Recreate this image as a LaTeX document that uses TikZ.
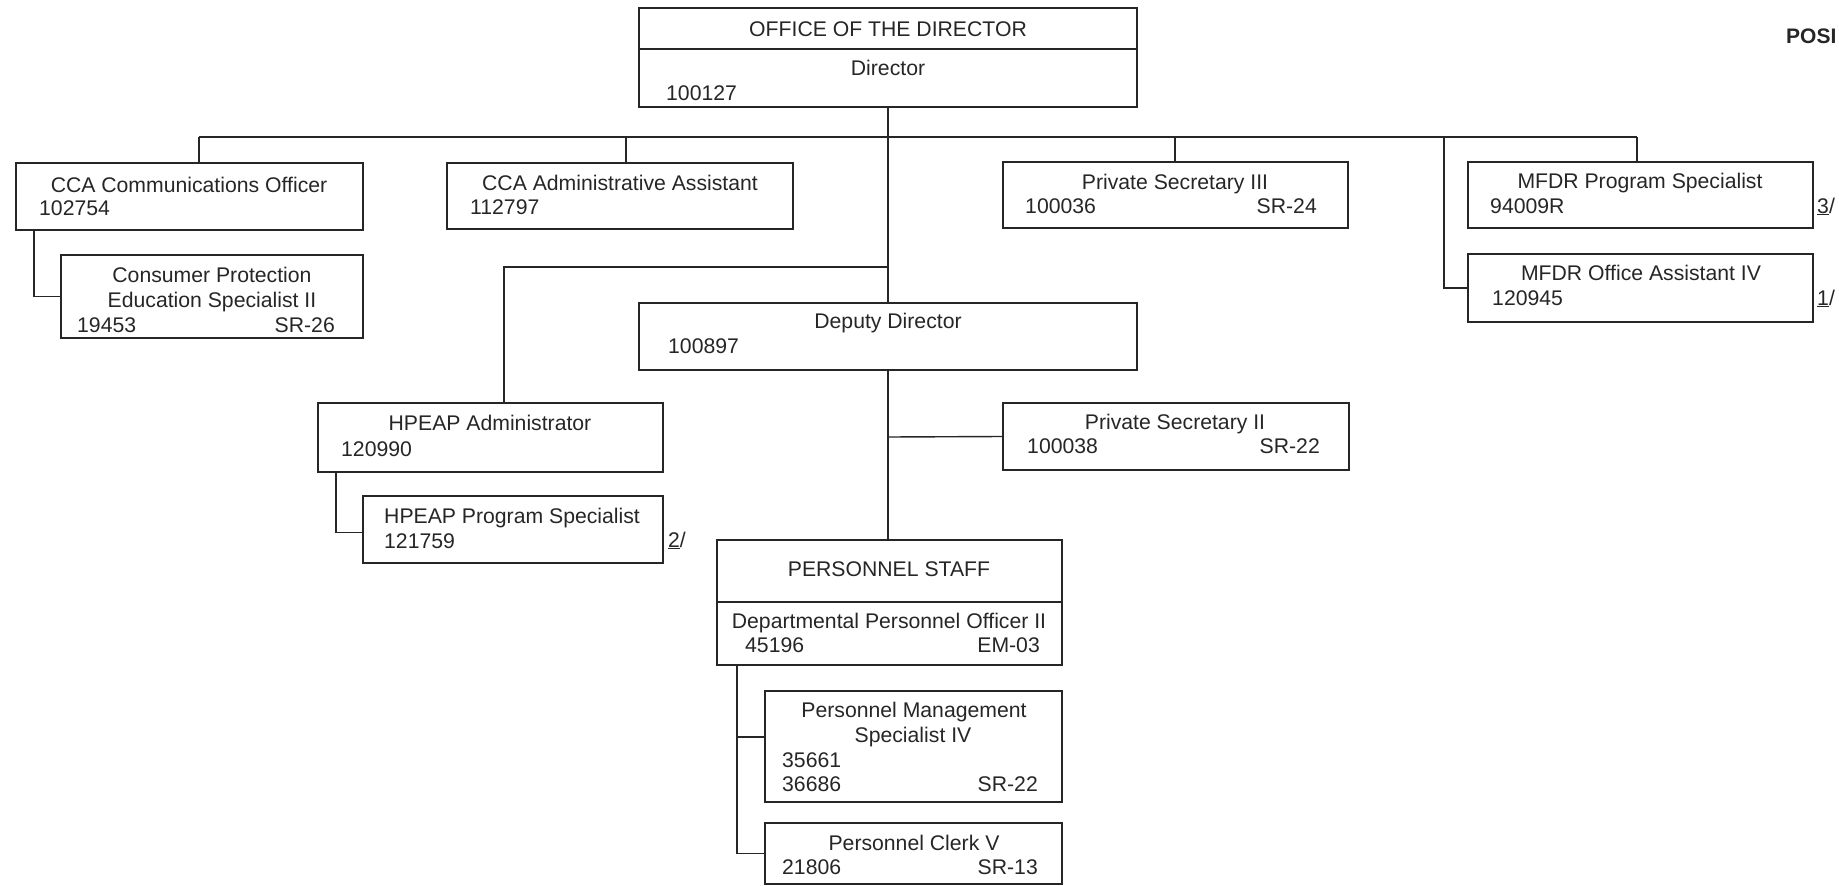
\documentclass[tikz,border=0pt]{standalone}
\usepackage{fontspec}
\setmainfont{Liberation Sans}
\usetikzlibrary{fit}
\definecolor{ink}{HTML}{262626}
\tikzset{
  orgbox/.style={draw=ink, line width=1.4pt, inner sep=0pt, rectangle},
  conn/.style={draw=ink, line width=1.4pt},
  txt/.style={inner sep=0pt, text=ink, font=\fontsize{21.2pt}{25pt}\selectfont},
  ctr/.style={txt, anchor=base},
  lft/.style={txt, anchor=base west},
  rgt/.style={txt, anchor=base east},
}
\begin{document}
\begin{tikzpicture}[x=1pt,y=-1pt]
\useasboundingbox (0,0) rectangle (1839,886);
% ---------- boxes ----------
\node[orgbox, fit={(639,8)(1137,107)}] (dir) {};
\draw[conn] (dir.west |- 0,49) -- (dir.east |- 0,49);
\node[orgbox, fit={(16,163)(363,230)}] (ccac) {};
\node[orgbox, fit={(61,255)(363,338)}] (cpes) {};
\node[orgbox, fit={(447,163)(793,229)}] (ccaa) {};
\node[orgbox, fit={(1003,162)(1348,228)}] (ps3) {};
\node[orgbox, fit={(1468,162)(1813,228)}] (mfdrps) {};
\node[orgbox, fit={(1468,254)(1813,322)}] (mfdroa) {};
\node[orgbox, fit={(639,303)(1137,370)}] (dep) {};
\node[orgbox, fit={(318,403)(663,472)}] (hpa) {};
\node[orgbox, fit={(363,496)(663,563)}] (hps) {};
\node[orgbox, fit={(1003,403)(1349,470)}] (ps2) {};
\node[orgbox, fit={(717,540)(1062,665)}] (pst) {};
\draw[conn] (pst.west |- 0,602) -- (pst.east |- 0,602);
\node[orgbox, fit={(765,691)(1062,802)}] (pms) {};
\node[orgbox, fit={(765,823)(1062,884)}] (clerk) {};
% ---------- texts ----------
\node[ctr] (dir-a) at (888,36) {OFFICE OF THE DIRECTOR};
\node[ctr] (dir-b) at (888,75) {Director};
\node[lft] (dir-c) at (666,100) {100127};
\node[ctr] (ccac-a) at (189,192) {CCA Communications Officer};
\node[lft] (ccac-b) at (39,215) {102754};
\node[ctr] (cpes-a) at (212,282) {Consumer Protection};
\node[ctr] (cpes-b) at (212,307) {Education Specialist II};
\node[lft] (cpes-c) at (77,332) {19453};
\node[rgt] (cpes-d) at (335,332) {SR-26};
\node[ctr] (ccaa-a) at (620,190) {CCA Administrative Assistant};
\node[lft] (ccaa-b) at (470,214) {112797};
\node[ctr] (ps3-a) at (1175,189) {Private Secretary III};
\node[lft] (ps3-b) at (1025,213) {100036};
\node[rgt] (ps3-c) at (1317,213) {SR-24};
\node[ctr] (mfdrps-a) at (1640,188) {MFDR Program Specialist};
\node[lft] (mfdrps-b) at (1490,213) {94009R};
\node[lft] (mfdrps-n) at (1817,213) {\underline{3}/};
\node[ctr] (mfdroa-a) at (1641,280) {MFDR Office Assistant IV};
\node[lft] (mfdroa-b) at (1492,305) {120945};
\node[lft] (mfdroa-n) at (1817,305) {\underline{1}/};
\node[ctr] (dep-a) at (888,328) {Deputy Director};
\node[lft] (dep-b) at (668,353) {100897};
\node[ctr] (hpa-a) at (490,430) {HPEAP Administrator};
\node[lft] (hpa-b) at (341,456) {120990};
\node[lft] (hps-a) at (384,523) {HPEAP Program Specialist};
\node[lft] (hps-b) at (384,548) {121759};
\node[lft] (hps-n) at (668,547) {\underline{2}/};
\node[ctr] (ps2-a) at (1175,429) {Private Secretary II};
\node[lft] (ps2-b) at (1027,453) {100038};
\node[rgt] (ps2-c) at (1320,453) {SR-22};
\node[ctr] (pst-a) at (889,576) {PERSONNEL STAFF};
\node[ctr] (pst-b) at (889,628) {Departmental Personnel Officer II};
\node[lft] (pst-c) at (745,652) {45196};
\node[rgt] (pst-d) at (1040,652) {EM-03};
\node[ctr] (pms-a) at (914,717) {Personnel Management};
\node[ctr] (pms-b) at (913,742) {Specialist IV};
\node[lft] (pms-c) at (782,767) {35661};
\node[lft] (pms-d) at (782,791) {36686};
\node[rgt] (pms-e) at (1038,791) {SR-22};
\node[ctr] (clerk-a) at (914,850) {Personnel Clerk V};
\node[lft] (clerk-b) at (782,874) {21806};
\node[rgt] (clerk-c) at (1038,874) {SR-13};
\node[txt, anchor=base west, font=\fontsize{21pt}{25pt}\selectfont\bfseries] (posi) at (1786,43) {POSI};
% ---------- connector points ----------
\coordinate (b1) at (199,137);
\coordinate (b2) at (626,137);
\coordinate (b3) at (888,137);
\coordinate (b4) at (1175,137);
\coordinate (b5) at (1444,137);
\coordinate (b6) at (1637,137);
\coordinate (h1) at (888,267);
\coordinate (h2) at (504,267);
\coordinate (c1) at (34,230);
\coordinate (c2) at (336,472);
\coordinate (d1) at (888,437);
\coordinate (p1) at (737,665);
% ---------- connectors ----------
\draw[conn] (dir.south) -- (dep.north);
\draw[conn] (b1) -- (b6);
\draw[conn] (b1) -- (b1 |- ccac.north);
\draw[conn] (b2) -- (b2 |- ccaa.north);
\draw[conn] (b4) -- (b4 |- ps3.north);
\draw[conn] (b6) -- (b6 |- mfdrps.north);
\draw[conn] (b5) |- (mfdroa.west);
\draw[conn] (c1) |- (cpes.west);
\draw[conn] (h1) -- (h2) -- (h2 |- hpa.north);
\draw[conn] (c2) |- ([yshift=-3pt]hps.west);
\draw[conn] (dep.south) -- (dep.south |- pst.north);
\draw[conn] (d1) -- (ps2.west);
\draw[conn] (p1) |- ([yshift=9.5pt]pms.west);
\draw[conn] (p1) |- (clerk.west);
\end{tikzpicture}
\end{document}
